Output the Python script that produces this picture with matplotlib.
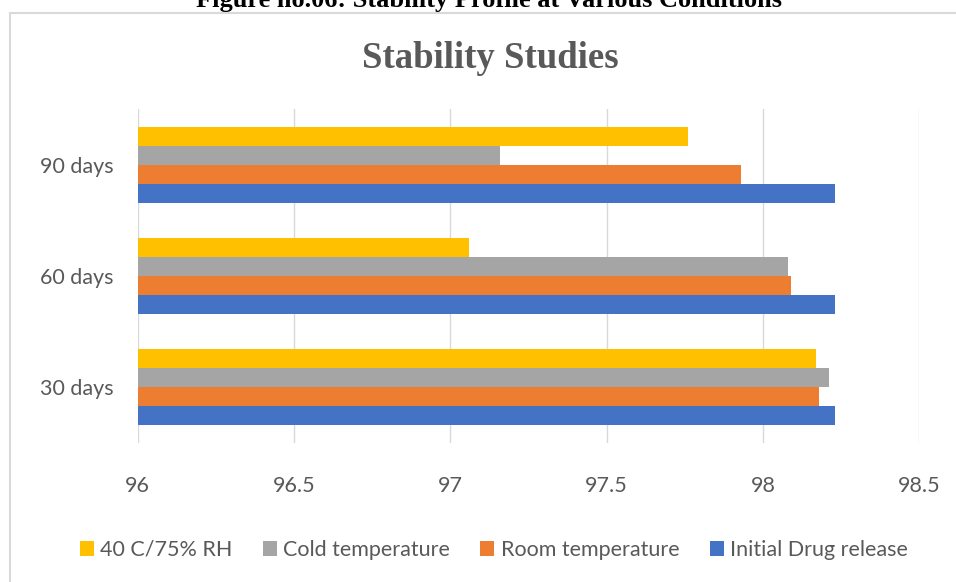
import numpy as np
import matplotlib.pyplot as plt
from matplotlib.patches import Rectangle

# data
periods = ["30 days", "60 days", "90 days"]
initial_release = [98.23, 98.23, 98.23]
room_temp = [98.18, 98.09, 97.93]
cold_temp = [98.21, 98.08, 97.16]
humid_40c = [98.17, 97.06, 97.76]
x_ticks = [96, 96.5, 97, 97.5, 98, 98.5]
x_ticklabels = ["96", "96.5", "97", "97.5", "98", "98.5"]

TEXT = "#595959"
GRID = "#D9D9D9"
SANS = ["Lato", "DejaVu Sans"]
SERIF = ["Liberation Serif", "DejaVu Serif"]

W, H = 956, 582
fig = plt.figure(figsize=(W / 100, H / 100), dpi=100)
ax = fig.add_axes([137.5 / W, 1 - 443 / H, (919.3 - 137.5) / W, (443 - 109) / H])

# chart frame (only left and top edges are inside the picture)
fig.patches.append(Rectangle((10 / W, -0.1), 1.2, 1.1 - 13 / H, transform=fig.transFigure,
                             fill=False, edgecolor=GRID, linewidth=1.5))

y = np.arange(len(periods))
h = 0.17
series = [
    ("Initial Drug release", initial_release, "#4472C4", -1.5),
    ("Room temperature", room_temp, "#ED7D31", -0.5),
    ("Cold temperature", cold_temp, "#A5A5A5", 0.5),
    ("40 C/75% RH", humid_40c, "#FFC000", 1.5),
]
handles = {}
for name, vals, color, off in series:
    handles[name] = ax.barh(y + off * h, vals, height=h, color=color, linewidth=0,
                            label=name, zorder=3)

ax.set_xlim(96, 98.5)
ax.set_ylim(-0.5, 2.5)
ax.set_xticks(x_ticks)
ax.set_xticklabels(x_ticklabels)
ax.set_yticks(y)
ax.set_yticklabels(periods)
ax.xaxis.grid(True, color=GRID, linewidth=1.0, zorder=0)
ax.tick_params(axis="x", length=0, pad=24, labelsize=15.5, labelcolor=TEXT)
ax.tick_params(axis="y", length=0, pad=17.5, labelsize=15.5, labelcolor=TEXT)
for lbl in ax.get_xticklabels() + ax.get_yticklabels():
    lbl.set_family(SANS)
for s in ax.spines.values():
    s.set_visible(False)

order = ["40 C/75% RH", "Cold temperature", "Room temperature", "Initial Drug release"]
fig.legend([handles[n] for n in order], order, loc="center", ncol=4,
           bbox_to_anchor=(494 / W, 1 - 550 / H), frameon=False,
           prop={"family": SANS, "size": 15.5}, labelcolor=TEXT,
           handlelength=0.65, handleheight=0.65, handletextpad=0.3,
           columnspacing=1.4)

fig.text(490 / W, 1 - 68 / H, "Stability Studies", ha="center", va="baseline",
         family=SERIF, fontweight="bold", fontsize=26.5, color=TEXT)
# caption of the source document, cut by the top edge as in the reference
fig.text(489 / W, 1 - 7 / H, "Figure no.06: Stability Profile at Various Conditions",
         ha="center", va="baseline", family=SERIF, fontweight="bold",
         fontsize=19, color="black")

fig.savefig("out.png", dpi=100)
